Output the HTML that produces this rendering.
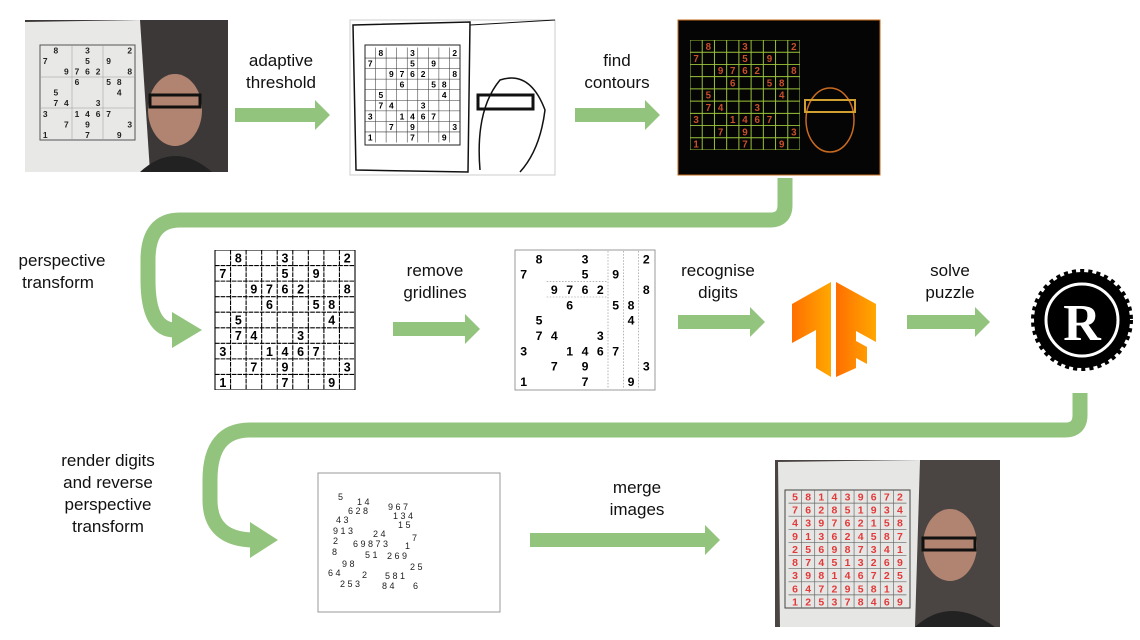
<!DOCTYPE html>
<html><head><meta charset="utf-8"><style>
body{margin:0;background:#fff;}
svg{display:block;font-family:"Liberation Sans",sans-serif;}
.lab{font-size:17px;fill:#111;text-anchor:middle;}
.d{font-family:"Liberation Sans",sans-serif;font-weight:bold;font-size:8px;text-anchor:middle;}
</style></head><body>
<svg width="1140" height="640" viewBox="0 0 1140 640">
<defs>
<marker id="ah" viewBox="0 0 10 10" refX="0" refY="5" markerWidth="2.2" markerHeight="2.2" orient="auto" markerUnits="strokeWidth">
<path d="M0,0 L10,5 L0,10 Z" fill="#93c47d"/></marker>
</defs>
<g fill="#93c47d">
<!-- straight arrows -->
<polygon points="235,108 315,108 315,100 330,115 315,130 315,122 235,122"/>
<polygon points="575,108 645,108 645,100 660,115 645,130 645,122 575,122"/>
<polygon points="393,322 465,322 465,314 480,329 465,344 465,336 393,336"/>
<polygon points="678,315 750,315 750,307 765,322 750,337 750,329 678,329"/>
<polygon points="907,315 975,315 975,307 990,322 975,337 975,329 907,329"/>
<polygon points="530,533 705,533 705,525 720,540 705,555 705,547 530,547"/>
</g>
<g fill="none" stroke="#93c47d" stroke-width="15">
<path d="M785,178 V205 Q785,220 770,220 H180 Q148,220 148,260 V280 Q148,330 175,330"/>
<path d="M1080,393 V415 Q1080,430 1065,430 H250 Q210,430 210,480 V500 Q210,540 255,540"/>
</g>
<polygon points="172,312 202,330 172,348" fill="#93c47d"/>
<polygon points="250,522 278,540 250,558" fill="#93c47d"/>

<!-- labels -->
<text class="lab" x="281" y="66">adaptive</text><text class="lab" x="281" y="88">threshold</text>
<text class="lab" x="617" y="66">find</text><text class="lab" x="617" y="88">contours</text>
<text class="lab" x="62" y="266">perspective</text><text class="lab" x="58" y="288">transform</text>
<text class="lab" x="435" y="276">remove</text><text class="lab" x="435" y="298">gridlines</text>
<text class="lab" x="718" y="276">recognise</text><text class="lab" x="718" y="298">digits</text>
<text class="lab" x="950" y="276">solve</text><text class="lab" x="950" y="298">puzzle</text>
<text class="lab" x="108" y="466">render digits</text><text class="lab" x="108" y="488">and reverse</text>
<text class="lab" x="108" y="510">perspective</text><text class="lab" x="108" y="532">transform</text>
<text class="lab" x="637" y="493">merge</text><text class="lab" x="637" y="515">images</text>

<!-- image 1 -->
<rect x="25" y="20" width="203" height="152" fill="#3d3838"/>
<polygon points="25,22 140,20 150,172 25,172" fill="#e8e8e6"/>
<rect x="40" y="45" width="95" height="95" fill="none" stroke="#555" stroke-width="1"/>
<g stroke="#999" stroke-width="0.5"><line x1="40" y1="77" x2="135" y2="77"/><line x1="40" y1="108" x2="135" y2="108"/><line x1="72" y1="45" x2="72" y2="140"/><line x1="103" y1="45" x2="103" y2="140"/></g>
<svg x="40" y="45" width="95" height="95" viewBox="0 0 90 90"><g class="d" fill="#222">
<text x="15 45 85" y="8">832</text><text x="5 45 65" y="18">759</text><text x="25 35 45 55 85" y="28">97628</text><text x="35 65 75" y="38">658</text><text x="15 75" y="48">54</text><text x="15 25 55" y="58">743</text><text x="5 35 45 55 65" y="68">31467</text><text x="25 45 85" y="78">793</text><text x="5 45 75" y="88">179</text></g></svg>
<ellipse cx="175" cy="110" rx="27" ry="36" fill="#b08470"/>
<rect x="150" y="95" width="50" height="12" fill="none" stroke="#111" stroke-width="3"/>
<path d="M140,172 Q175,140 212,172Z" fill="#222"/>

<!-- image 2 -->
<rect x="350" y="20" width="205" height="155" fill="#fff" stroke="#ccc"/>
<polygon points="353,25 470,22 468,172 356,170" fill="none" stroke="#111" stroke-width="1.5"/>
<rect x="365" y="45" width="95" height="100" fill="none" stroke="#222"/>
<svg x="365" y="45" width="95" height="100" viewBox="0 0 90 90"><g stroke="#333" stroke-width="0.5"><path d="M0 10H90M0 20H90M0 30H90M0 40H90M0 50H90M0 60H90M0 70H90M0 80H90M10 0V90M20 0V90M30 0V90M40 0V90M50 0V90M60 0V90M70 0V90M80 0V90"/></g><g class="d" fill="#000">
<text x="15 45 85" y="8">832</text><text x="5 45 65" y="18">759</text><text x="25 35 45 55 85" y="28">97628</text><text x="35 65 75" y="38">658</text><text x="15 75" y="48">54</text><text x="15 25 55" y="58">743</text><text x="5 35 45 55 65" y="68">31467</text><text x="25 45 85" y="78">793</text><text x="5 45 75" y="88">179</text></g></svg>
<path d="M480,170 Q475,110 500,80 Q530,70 545,110 Q540,150 520,172" fill="none" stroke="#111" stroke-width="1.5"/>
<rect x="478" y="95" width="55" height="14" fill="none" stroke="#111" stroke-width="3"/>
<line x1="470" y1="25" x2="555" y2="20" stroke="#111"/>

<!-- image 3 -->
<rect x="678" y="20" width="202" height="155" fill="#050505" stroke="#c66a1a"/>
<svg x="690" y="40" width="110" height="110" viewBox="0 0 90 90"><g stroke="#9cc43a" stroke-width="0.8" fill="none"><rect x="0" y="0" width="90" height="90"/><path d="M0 10H90M0 20H90M0 30H90M0 40H90M0 50H90M0 60H90M0 70H90M0 80H90M10 0V90M20 0V90M30 0V90M40 0V90M50 0V90M60 0V90M70 0V90M80 0V90"/></g><g class="d" fill="#c8502a">
<text x="15 45 85" y="8">832</text><text x="5 45 65" y="18">759</text><text x="25 35 45 55 85" y="28">97628</text><text x="35 65 75" y="38">658</text><text x="15 75" y="48">54</text><text x="15 25 55" y="58">743</text><text x="5 35 45 55 65" y="68">31467</text><text x="25 45 85" y="78">793</text><text x="5 45 75" y="88">179</text></g></svg>
<ellipse cx="830" cy="120" rx="24" ry="32" fill="none" stroke="#c86a20" stroke-width="1.5"/>
<rect x="805" y="100" width="50" height="12" fill="none" stroke="#d0a030" stroke-width="2"/>

<!-- grid 1 -->
<svg x="213" y="250" width="144" height="140" viewBox="0 0 90 90"><g stroke="#000" stroke-width="0.7"><rect x="0" y="0" width="90" height="90" fill="none"/><path d="M0 10H90M0 20H90M0 30H90M0 40H90M0 50H90M0 60H90M0 70H90M0 80H90M10 0V90M20 0V90M30 0V90M40 0V90M50 0V90M60 0V90M70 0V90M80 0V90" stroke-dasharray="3 0.6"/></g><g class="d" fill="#000">
<text x="15 45 85" y="8">832</text><text x="5 45 65" y="18">759</text><text x="25 35 45 55 85" y="28">97628</text><text x="35 65 75" y="38">658</text><text x="15 75" y="48">54</text><text x="15 25 55" y="58">743</text><text x="5 35 45 55 65" y="68">31467</text><text x="25 45 85" y="78">793</text><text x="5 45 75" y="88">179</text></g></svg>

<!-- grid 2 -->
<rect x="515" y="250" width="140" height="140" fill="#fff" stroke="#999"/>
<svg x="516" y="251" width="138" height="138" viewBox="0 0 90 90"><g stroke="#888" stroke-width="0.4" stroke-dasharray="1 1"><path d="M60 0V90M70 0V90M80 0V90M20 20H60M20 30H60"/></g><g class="d" fill="#000">
<text x="15 45 85" y="8">832</text><text x="5 45 65" y="18">759</text><text x="25 35 45 55 85" y="28">97628</text><text x="35 65 75" y="38">658</text><text x="15 75" y="48">54</text><text x="15 25 55" y="58">743</text><text x="5 35 45 55 65" y="68">31467</text><text x="25 45 85" y="78">793</text><text x="5 45 75" y="88">179</text></g></svg>

<!-- TF logo -->
<defs><linearGradient id="tf" x1="0" x2="1"><stop offset="0" stop-color="#ff6f00"/><stop offset="1" stop-color="#ffa800"/></linearGradient></defs>
<polygon points="792,304 831,282 831,377 816,368 816,330 792,343" fill="url(#tf)"/>
<polygon points="836,282 876,304 876,342 856,331 856,341 867,347 867,364 856,358 856,368 836,377" fill="url(#tf)"/>

<!-- Rust logo -->
<circle cx="1082" cy="320" r="48" fill="#000" stroke="#000" stroke-width="6" stroke-dasharray="4 4"/>
<circle cx="1082" cy="320" r="36" fill="none" stroke="#fff" stroke-width="3"/>
<text x="1082" y="340" text-anchor="middle" font-family="Liberation Serif,serif" font-weight="bold" font-size="52" fill="#fff">R</text>

<!-- render digits image -->
<rect x="318" y="473" width="182" height="139" fill="#fff" stroke="#999"/>
<g font-size="9" fill="#222" font-family="Liberation Sans,sans-serif">
<text x="338" y="500">5</text><text x="357" y="505">1 4</text><text x="388" y="510">9 6 7</text>
<text x="348" y="514">6 2 8</text><text x="393" y="519">1 3 4</text><text x="336" y="523">4 3</text><text x="398" y="528">1 5</text>
<text x="333" y="534">9 1 3</text><text x="373" y="537">2 4</text><text x="412" y="541">7</text><text x="333" y="544">2</text><text x="353" y="547">6 9 8 7 3</text><text x="405" y="549">1</text>
<text x="332" y="555">8</text><text x="365" y="558">5 1</text><text x="387" y="559">2 6 9</text><text x="342" y="567">9 8</text><text x="410" y="570">2 5</text>
<text x="328" y="576">6 4</text><text x="362" y="578">2</text><text x="385" y="579">5 8 1</text><text x="340" y="587">2 5 3</text><text x="382" y="589">8 4</text><text x="413" y="589">6</text>
</g>

<!-- final merged image -->
<rect x="775" y="460" width="225" height="167" fill="#4a4442"/>
<polygon points="778,462 920,460 915,627 780,627" fill="#e6e6e4"/>
<rect x="785" y="490" width="125" height="118" fill="none" stroke="#444"/>
<svg x="785" y="490" width="125" height="118" viewBox="0 0 90 90"><g stroke="#666" stroke-width="0.5"><path d="M0 10H90M0 20H90M0 30H90M0 40H90M0 50H90M0 60H90M0 70H90M0 80H90M10 0V90M20 0V90M30 0V90M40 0V90M50 0V90M60 0V90M70 0V90M80 0V90"/></g><g class="d" fill="#e23a3a" font-size="9" letter-spacing="0">
<text x="5 15 25 35 45 55 65 75 85" y="8">581439672</text><text x="5 15 25 35 45 55 65 75 85" y="18">762851934</text><text x="5 15 25 35 45 55 65 75 85" y="28">439762158</text><text x="5 15 25 35 45 55 65 75 85" y="38">913624587</text><text x="5 15 25 35 45 55 65 75 85" y="48">256987341</text><text x="5 15 25 35 45 55 65 75 85" y="58">874513269</text><text x="5 15 25 35 45 55 65 75 85" y="68">398146725</text><text x="5 15 25 35 45 55 65 75 85" y="78">647295813</text><text x="5 15 25 35 45 55 65 75 85" y="88">125378469</text></g></svg>
<ellipse cx="950" cy="545" rx="27" ry="36" fill="#b08470"/>
<rect x="923" y="538" width="52" height="12" fill="none" stroke="#111" stroke-width="3"/>
<path d="M915,627 Q950,595 995,627Z" fill="#222"/>
</svg>
</body></html>
